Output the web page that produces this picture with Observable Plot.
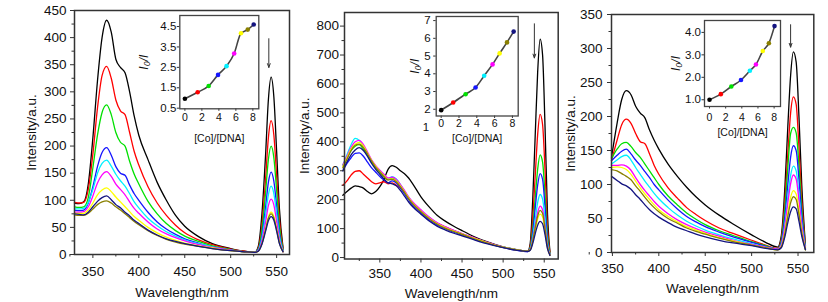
<!DOCTYPE html>
<html><head><meta charset="utf-8">
<script src="https://cdn.jsdelivr.net/npm/d3@7"></script>
<script src="https://cdn.jsdelivr.net/npm/@observablehq/plot@0.6"></script>
<style>
body{margin:0;background:#fff}
#fig{position:relative;width:828px;height:302px;overflow:hidden;font-family:"Liberation Sans",Arial,sans-serif}
#fig svg{position:absolute;overflow:visible}
</style></head><body><div id="fig"></div>
<script>
// series colours in titration order
const seriesColors = ["#000000","#ff0000","#00e000","#1515ff","#00f0ff","#ff00ff","#ffff00","#8a8000","#141480"];

// ---------- Panel 1 spectra ----------
const wl1 = [330,335,340,345,350,355,360,365,370,375,380,385,390,395,400,410,420,430,440,450,465,480,500,515,526,530,534,538,541,544,547,550,553,557];
const p1Black  = [95,94,97,130,215,320,400,432,410,360,345,335,300,255,220,175,133,100,72,52,33,20,11,6,4,15,75,185,285,327,290,190,85,12];
const p1Red    = [96,95,96,120,185,270,330,347,325,285,265,258,225,190,165,125,95,72,54,40,27,18,10,6,4,12,55,140,215,247,220,145,65,10];
const p1Green  = [88,87,88,105,160,220,262,276,258,225,207,200,172,148,130,98,75,57,44,34,24,16,9,5,4,10,45,115,175,200,178,118,52,8];
const p1Blue   = [82,81,82,95,125,162,188,197,183,162,150,146,128,112,100,78,60,47,37,29,21,14,8,5,4,9,35,88,133,152,135,90,40,7];
const p1Cyan   = [84,84,85,96,120,150,168,174,163,148,136,126,112,97,86,67,53,42,34,27,20,14,8,5,4,8,30,73,110,126,112,75,34,6];
const p1Magenta= [78,78,79,88,108,132,147,153,144,130,120,110,97,85,76,60,47,38,31,25,18,13,8,5,4,7,25,60,90,102,91,61,28,5];
const p1Yellow = [76,76,76,82,95,110,119,123,116,106,97,88,79,70,63,50,40,32,26,21,16,12,7,5,4,6,20,47,69,78,70,48,23,5];
const p1Olive  = [73,72,72,76,84,92,97,99,95,88,82,75,68,61,55,44,35,28,23,19,15,11,7,5,4,6,20,46,67,75,67,46,21,5];
const p1Navy   = [75,74,73,78,88,98,105,108,101,92,86,78,71,63,57,45,36,29,24,20,15,11,7,5,4,6,19,43,62,70,63,43,20,5];

// ---------- Panel 2 spectra ----------
const wl2 = [305,310,315,320,325,330,335,340,345,350,355,360,365,370,375,380,385,390,400,410,420,430,440,450,465,480,500,515,530,533,536,539,542,545,548,551,554,557];
const p2Black  = [215,228,240,248,245,240,228,220,228,245,270,305,318,312,300,290,275,255,210,175,145,125,108,93,72,55,37,28,22,50,200,420,640,755,700,450,150,20];
const p2Red    = [250,265,285,298,300,288,275,262,255,258,262,255,258,250,240,225,205,190,160,135,118,105,93,82,66,52,36,27,22,40,135,280,425,495,460,300,100,15];
const p2Green  = [320,345,370,385,390,375,355,330,310,295,280,270,275,270,250,228,205,190,162,138,118,104,92,82,66,52,36,27,22,35,100,205,305,355,330,215,75,12];
const p2Blue   = [300,325,345,360,362,350,330,310,295,280,268,258,265,258,240,220,200,180,155,130,112,100,88,78,63,50,35,26,21,32,85,170,250,290,270,175,60,10];
const p2Cyan   = [320,355,390,412,405,385,360,335,315,300,285,272,280,272,252,230,208,190,162,138,118,104,92,82,66,52,36,27,22,30,70,130,190,218,202,132,48,10];
const p2Magenta= [320,350,380,400,405,390,365,338,318,302,288,275,278,270,252,232,210,192,165,140,120,106,94,83,68,53,36,27,22,28,60,108,155,178,165,108,40,9];
const p2Yellow = [315,345,375,392,398,385,360,335,315,298,283,270,272,265,248,228,206,188,160,136,117,103,91,81,66,52,36,27,22,27,55,95,133,150,140,93,35,8];
const p2Olive  = [310,340,370,388,392,380,358,333,312,296,280,268,270,262,245,225,204,186,158,134,115,101,90,80,65,51,35,27,22,27,58,102,143,163,152,100,37,8];
const p2Navy   = [300,330,355,372,380,370,350,325,305,288,272,258,255,248,232,212,192,175,150,126,108,95,84,75,61,48,34,26,21,25,48,82,112,125,117,78,30,7];

// ---------- Panel 3 spectra ----------
const wl3 = [349,355,360,365,370,375,380,385,390,395,400,410,420,430,440,450,465,480,500,515,528,532,536,539,542,545,548,551,554,558];
const p3Black  = [140,190,225,238,232,215,205,198,180,165,152,130,112,96,82,70,55,42,26,15,8,25,100,185,260,295,280,200,100,10];
const p3Red    = [135,165,188,196,190,175,163,160,145,128,115,95,80,66,56,47,36,28,18,11,6,20,80,145,205,229,218,155,78,8];
const p3Green  = [138,152,160,162,156,147,140,130,120,110,100,83,70,58,49,41,32,25,16,10,5,17,68,125,175,184,176,128,65,7];
const p3Blue   = [135,143,149,152,145,136,128,119,110,100,92,77,64,53,45,38,30,23,15,9,5,15,55,100,140,157,150,108,55,6];
const p3Cyan   = [130,136,141,143,136,125,115,105,96,87,79,66,55,46,39,33,26,20,13,8,5,12,44,81,113,127,120,86,44,5];
const p3Magenta= [128,128,129,127,121,110,100,91,83,75,68,57,48,41,35,30,24,18,12,8,5,11,40,73,101,114,108,77,40,5];
const p3Yellow = [125,126,125,122,115,105,95,86,78,70,63,53,45,38,33,28,22,17,11,7,4,9,32,59,81,91,86,62,32,4];
const p3Olive  = [122,120,116,112,107,98,90,81,73,66,60,50,43,36,31,27,21,16,11,7,4,8,29,53,73,82,78,56,29,4];
const p3Navy   = [112,106,101,98,93,85,78,70,63,57,52,44,37,32,27,23,18,14,10,6,4,7,24,44,60,67,64,46,24,4];

// ---------- Insets: I0/I vs [Co]/[DNA] ----------
const inset1X = [0,1.5,2.8,3.9,4.9,5.8,6.6,7.4,8.1];
const inset1Y = [0.96,1.28,1.59,2.13,2.56,3.18,4.17,4.35,4.6];
const inset2X = [0,1.35,2.74,3.86,4.83,5.77,6.56,7.39,8.14];
const inset2Y = [1.95,2.38,2.85,3.23,3.89,4.53,5.15,5.77,6.38];
const inset3X = [0,1.4,2.7,3.9,5.0,5.75,6.6,7.35,8.05];
const inset3Y = [1.0,1.25,1.59,1.88,2.29,2.57,3.17,3.52,4.28];

// ---------- Tick values ----------
const xTicksMain = [350,400,450,500,550];
const xMinorMain = [325,375,425,475,525];
const yTicks1 = [0,50,100,150,200,250,300,350,400,450];
const yTicks2 = [0,100,200,300,400,500,600,700,800];
const yTicks3 = [0,50,100,150,200,250,300,350];
const insetXTicks = [0,2,4,6,8];
const inset1YTicks = [0.5,1.5,2.5,3.5,4.5];
const inset2YTicks = [2,3,4,5,6,7];
const inset2ExtraLabel = [1];   // the "1" printed just below the inset-2 frame
const inset3YTicks = [1,2,3,4];

// arrows: [wavelength, fromIntensity, toIntensity]
const arrow1 = [541.5, 398, 345];
const arrow2 = [538, 808, 690];
const arrow3 = [542, 335, 302];

const fig = document.getElementById("fig");
const FONT = "'Liberation Sans', Arial, sans-serif";

function place(svg, left, top) {
  svg.style.left = left + "px";
  svg.style.top = top + "px";
  fig.appendChild(svg);
}

function mainPanel(o) {
  const lines = o.series.map((vals, i) =>
    Plot.line(o.wl.map((w, j) => [w, vals[j]]), {stroke: seriesColors[i], strokeWidth: 1.3, curve: "monotone-x"}));
  const svg = Plot.plot({
    width: o.width, height: 302,
    marginLeft: o.mL, marginTop: o.mT, marginRight: o.mR, marginBottom: o.mB,
    style: {fontFamily: FONT, fontSize: "13.5px", color: "#111", background: "transparent"},
    x: {domain: o.xDomain},
    y: {domain: o.yDomain},
    marks: [
      ...lines,
      Plot.axisX({ticks: xTicksMain, tickSize: 4, tickPadding: o.xPad, stroke: "#333", label: "Wavelength/nm", labelAnchor: "center", labelArrow: "none", labelOffset: o.xLabelOffset}),
      Plot.axisX({ticks: xMinorMain, tickSize: 2.5, text: null, label: null, stroke: "#333"}),
      Plot.axisY({ticks: o.yTicks, tickSize: 4, tickPadding: o.yPad, stroke: "#333", label: "Intensity/a.u.", labelAnchor: "center", labelArrow: "none", labelOffset: o.yLabelOffset}),
      Plot.axisY({ticks: o.yMinor, tickSize: 2.5, text: null, label: null, stroke: "#333"}),
      Plot.frame({stroke: "#333", strokeWidth: 1.5}),
      Plot.arrow([o.arrow], {x1: d => d[0], y1: d => d[1], x2: d => d[0], y2: d => d[2], stroke: "#333", strokeWidth: 1, headLength: 6, headAngle: 40})
    ]
  });
  place(svg, o.left, 0);
}

function insetPanel(o) {
  const pts = o.x.map((v, i) => ({x: v, y: o.y[i], c: seriesColors[i]}));
  const marks = [
    Plot.frame({fill: "white", stroke: "none"}),
    Plot.line(pts, {x: "x", y: "y", curve: "monotone-x", stroke: "#444", strokeWidth: 1.6}),
    Plot.dot(pts, {x: "x", y: "y", fill: "c", r: 2.3, stroke: "none"}),
    Plot.axisX({ticks: insetXTicks, tickSize: 2.5, tickPadding: o.xPad, stroke: "#333", label: "[Co]/[DNA]", labelAnchor: "center", labelArrow: "none", labelOffset: o.xLabelOffset, fontSize: 10.5}),
    Plot.axisY({ticks: o.yTicks, tickSize: 2.5, tickPadding: o.yPad, stroke: "#333", tickFormat: o.yFormat, label: null}),
    Plot.text(["I₀/I"], {text: d => d, frameAnchor: "left", dx: -o.yLabelDx, rotate: -90, fontStyle: "italic", fontSize: 12, textAnchor: "middle"}),
    Plot.frame({stroke: "#444", strokeWidth: 1.3})
  ];
  if (o.extra) marks.push(Plot.text(o.extra, {y: d => d, text: d => String(d), frameAnchor: "left", dx: -o.extraDx, textAnchor: "end"}));
  const svg = Plot.plot({
    width: o.width, height: o.height,
    marginLeft: o.mL, marginTop: o.mT, marginRight: o.mR, marginBottom: o.mB,
    style: {fontFamily: FONT, fontSize: "11.5px", color: "#111", background: "transparent"},
    x: {domain: o.xDomain},
    y: {domain: o.yDomain},
    color: {type: "identity"},
    marks
  });
  place(svg, o.left, 0);
}

mainPanel({left: 0, width: 295, mL: 74, mT: 10, mR: 6, mB: 48,
  wl: wl1, series: [p1Black,p1Red,p1Green,p1Blue,p1Cyan,p1Magenta,p1Yellow,p1Olive,p1Navy],
  xDomain: [330, 564], yDomain: [0, 450], yTicks: yTicks1, yMinor: [25,75,125,175,225,275,325,375,425],
  xPad: 8, yPad: 4, xLabelOffset: 42, yLabelOffset: 48, arrow: arrow1});

mainPanel({left: 296, width: 266, mL: 48, mT: 12, mR: 4.3, mB: 43.5,
  wl: wl2, series: [p2Black,p2Red,p2Green,p2Blue,p2Cyan,p2Magenta,p2Yellow,p2Olive,p2Navy],
  xDomain: [307, 567], yDomain: [-5, 847], yTicks: yTicks2, yMinor: [50,150,250,350,450,550,650,750],
  xPad: 5.5, yPad: 1.5, xLabelOffset: 38.5, yLabelOffset: 45, arrow: arrow2});

mainPanel({left: 562, width: 266, mL: 49, mT: 14, mR: 14.7, mB: 50,
  wl: wl3, series: [p3Black,p3Red,p3Green,p3Blue,p3Cyan,p3Magenta,p3Yellow,p3Olive,p3Navy],
  xDomain: [349, 567], yDomain: [0, 350], yTicks: yTicks3, yMinor: [25,75,125,175,225,275,325],
  xPad: 7, yPad: 5, xLabelOffset: 40, yLabelOffset: 46, arrow: arrow3});

insetPanel({left: 140, width: 122, height: 145, mL: 39.3, mT: 15, mR: 3.7, mB: 36.7,
  x: inset1X, y: inset1Y, xDomain: [-0.6, 8.7], yDomain: [0.47, 5.04],
  yTicks: inset1YTicks, yFormat: ".1f", xPad: 2.5, yPad: 1, xLabelOffset: 33, yLabelDx: 36});

insetPanel({left: 400, width: 122, height: 145, mL: 35.7, mT: 16, mR: 4.3, mB: 29.5,
  x: inset2X, y: inset2Y, xDomain: [-0.56, 8.65], yDomain: [1.62, 7.23],
  yTicks: inset2YTicks, yFormat: "d", xPad: 1.5, yPad: 3, xLabelOffset: 25.5, yLabelDx: 21,
  extra: inset2ExtraLabel, extraDx: 7});

insetPanel({left: 660, width: 125, height: 145, mL: 44, mT: 20, mR: 5, mB: 39,
  x: inset3X, y: inset3Y, xDomain: [-0.62, 8.79], yDomain: [0.7, 4.53],
  yTicks: inset3YTicks, yFormat: ".1f", xPad: 5, yPad: 1, xLabelOffset: 29, yLabelDx: 28});
</script>
</body></html>
